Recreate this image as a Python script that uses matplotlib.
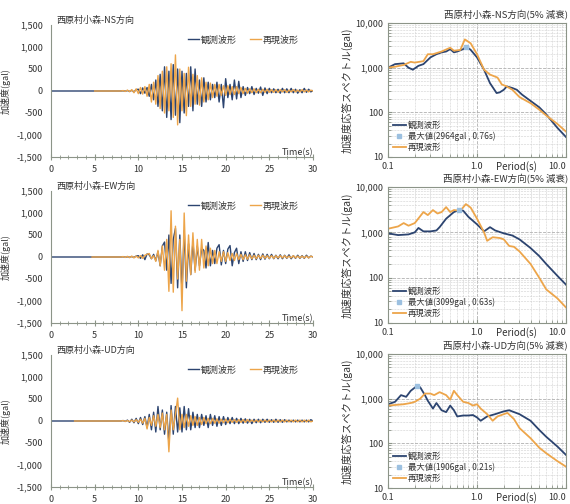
import numpy as np
import matplotlib
matplotlib.use('Agg')
import matplotlib.pyplot as plt
import matplotlib.ticker as mtick
from matplotlib.lines import Line2D

plt.rcParams['font.family'] = ['Noto Sans CJK JP', 'DejaVu Sans']

# ---------------- data ----------------
directions = ['NS', 'EW', 'UD']
site = '西原村小森'

# waveform samples, every 0.25 s from 8 s to 30 s (gal)
wave_t0, wave_t1, wave_dt = 8.0, 30.0, 0.25
rep_start = [5.0, 4.7, 2.7]   # where the reproduced record starts (s)

obs_ns = [0, 5, -5, 10, -10, 15, -20, 30,
          40, -60, 70, -50, 80, -120, 150, -200,
          250, -350, 380, -450, 550, -600, 450, -650,
          600, -550, 500, -720, 450, -500, 400, -350,
          550, -450, 500, -300, 250, -350, 300, -250,
          200, -200, 150, -150, 200, -250, 150, -380,
          280, -150, 150, -200, 250, -180, 220, -150,
          100, -100, 80, -60, 100, -80, 60, -50,
          90, -100, 70, -60, 60, -40, 50, -40,
          40, -50, 60, -40, 50, -40, 60, -40,
          40, -50, 30, -40, 60, -30, 40, -20,
          10]
rep_ns = [0, 10, -10, 20, -15, 30, -40, 50,
          -60, 80, -70, 100, -120, 150, -250, 200,
          -300, 350, -400, 450, -500, 550, -450, 620,
          -600, 820, -770, 500, -450, 400, -560, 540,
          -350, 380, -300, 350, -320, 300, -250, 200,
          -200, 180, -150, 150, -120, 150, -100, 120,
          -100, 120, -80, 100, -80, 100, -60, 80,
          -60, 60, -50, 50, -40, 50, -40, 40,
          -40, 40, -30, 40, -30, 30, -30, 30,
          -30, 30, -20, 30, -30, 20, -20, 30,
          -20, 20, -20, 30, -20, 20, -20, 20,
          0]

obs_ew = [0, 5, -5, 5, -5, 10, -10, 20,
          30, -30, 50, -60, 70, 50, -40, 60,
          -80, 120, -200, 250, 340, -300, 500, -600,
          400, 650, -700, 500, -800, 600, -700, 300,
          -400, 350, -300, 250, -200, 200, 150, -250,
          330, -200, 150, -150, 200, 280, -180, 150,
          -150, 180, 260, -200, 100, 200, -150, 120,
          -100, 120, -80, 100, -60, 80, -60, 60,
          -60, 70, -50, 60, -40, 60, -40, 40,
          -40, 50, -40, 40, -30, 50, -40, 30,
          -30, 40, -30, 30, -30, 40, -20, 20,
          0]
rep_ew = [0, 10, -10, 15, -15, 20, -20, 20,
          -20, 30, -30, 40, 60, 80, -40, 30,
          -100, 150, -200, 250, -300, 400, -780, 1050,
          -800, 700, -500, 400, -1220, 1000, -550, 500,
          -400, 550, -350, 400, -300, 400, -250, 250,
          -200, 200, -150, 150, -150, 120, -100, 120,
          -100, 100, -80, 80, -80, 80, -60, 60,
          -60, 50, -50, 50, -40, 40, -40, 40,
          -30, 40, -30, 30, -30, 30, -30, 30,
          -20, 30, -20, 30, -20, 20, -20, 30,
          -20, 20, -20, 20, -20, 20, -20, 20,
          0]

obs_ud = [0, 10, -10, 20, -30, 40, -40, 60,
          -60, 80, -80, 100, -150, 150, -200, 200,
          -250, 330, -200, 250, -300, 200, -500, 350,
          -300, 330, -250, 300, -250, 330, -200, 280,
          -200, 200, -150, 150, -150, 150, -100, 120,
          -150, 150, -100, 120, -120, 100, -100, 100,
          -80, 80, -60, 80, -60, 60, -60, 60,
          -50, 50, -50, 40, -60, 40, -40, 40,
          -40, 40, -30, 40, -30, 30, -30, 40,
          -30, 30, -30, 30, -20, 20, -20, 20,
          -20, 20, -20, 20, -20, 20, -20, 30,
          0]
rep_ud = [0, 10, -10, 10, -15, 20, -20, 30,
          -30, 40, -50, 60, -180, 80, -100, 120,
          -120, 150, -150, 180, -200, 150, -700, 250,
          -200, 150, 520, -200, 150, -150, 150, -120,
          120, -100, 100, -100, 80, -80, 80, -60,
          60, -60, 60, -50, 50, -50, 40, -40,
          40, -40, 40, -30, 30, -30, 30, -30,
          30, -30, 30, -20, 20, -20, 20, -20,
          20, -20, 20, -20, 20, -20, 20, -20,
          20, -20, 20, -20, 20, -20, 20, -20,
          20, -20, 20, -20, 20, -20, 20, -20,
          0]

# acceleration response spectra (5% damping), period (s) / Sa (gal)
per_obs_ns = [0.1, 0.12, 0.15, 0.17, 0.19, 0.22, 0.25, 0.3, 0.35, 0.4, 0.45, 0.5, 0.55,
              0.6, 0.7, 0.76, 0.85, 1.0, 1.2, 1.4, 1.66, 1.8, 2.0, 2.16, 2.5, 2.8, 3.2,
              4.0, 5.0, 6.0, 7.0, 8.0, 10.0]
sa_obs_ns = [1000, 1200, 1250, 1000, 900, 1100, 1200, 1700, 2000, 2200, 2300, 2600, 2200,
             2300, 2600, 2964, 2500, 1700, 900, 450, 270, 280, 320, 380, 350, 320, 250,
             180, 130, 90, 62, 45, 28]
per_rep_ns = [0.1, 0.12, 0.15, 0.18, 0.2, 0.25, 0.28, 0.32, 0.4, 0.5, 0.55, 0.65, 0.73,
              0.85, 1.0, 1.2, 1.4, 1.7, 1.9, 2.1, 2.5, 3.0, 4.0, 5.0, 6.0, 8.0, 10.0]
sa_rep_ns = [1000, 1050, 1150, 1350, 1300, 1400, 2000, 2000, 2300, 2800, 2400, 2500, 4300,
             3500, 2000, 900, 700, 600, 420, 390, 320, 220, 160, 115, 85, 55, 37]

per_obs_ew = [0.1, 0.13, 0.17, 0.2, 0.22, 0.25, 0.3, 0.35, 0.38, 0.45, 0.55, 0.63, 0.7,
              0.8, 1.0, 1.2, 1.4, 1.6, 2.0, 2.5, 3.0, 4.0, 5.0, 6.0, 8.0, 10.0]
sa_obs_ew = [950, 870, 900, 1000, 1250, 1050, 1050, 1100, 1300, 2000, 2800, 3099, 3000,
             2200, 1500, 1050, 1300, 1100, 950, 850, 700, 450, 300, 200, 110, 70]
per_rep_ew = [0.1, 0.13, 0.15, 0.17, 0.2, 0.25, 0.28, 0.32, 0.36, 0.4, 0.45, 0.5, 0.55,
              0.65, 0.75, 0.85, 1.0, 1.2, 1.3, 1.5, 1.8, 2.0, 2.3, 2.6, 3.0, 4.0, 5.0,
              6.0, 8.0, 10.0]
sa_rep_ew = [1200, 1350, 1600, 1400, 1600, 2800, 2400, 3100, 2600, 2800, 3600, 2800, 3100,
             3000, 4200, 3500, 2000, 1000, 650, 780, 750, 700, 500, 480, 380, 200, 100,
             55, 35, 22]

per_obs_ud = [0.1, 0.12, 0.14, 0.16, 0.18, 0.21, 0.23, 0.26, 0.28, 0.32, 0.35, 0.4, 0.45,
              0.5, 0.55, 0.6, 0.7, 0.8, 0.9, 1.0, 1.1, 1.3, 1.6, 2.0, 2.3, 3.0, 4.0, 5.0,
              6.0, 8.0, 10.0]
sa_obs_ud = [750, 850, 1200, 1100, 1500, 1906, 1800, 1200, 900, 600, 800, 550, 500,
             700, 550, 400, 420, 420, 430, 380, 320, 400, 450, 520, 550, 450, 320, 200,
             140, 85, 55]
per_rep_ud = [0.1, 0.15, 0.18, 0.2, 0.23, 0.26, 0.3, 0.33, 0.38, 0.45, 0.5, 0.55, 0.6,
              0.7, 0.8, 0.9, 1.0, 1.1, 1.3, 1.5, 1.7, 2.0, 2.2, 2.6, 3.0, 4.0, 5.0, 6.0,
              8.0, 10.0]
sa_rep_ud = [700, 750, 800, 850, 1000, 1300, 1300, 1200, 1400, 1200, 950, 1500, 1200,
             850, 800, 700, 750, 600, 450, 320, 400, 450, 480, 350, 220, 130, 80, 60,
             40, 30]

peak_sa = [2964, 3099, 1906]
peak_per = [0.76, 0.63, 0.21]

obs_waves = [obs_ns, obs_ew, obs_ud]
rep_waves = [rep_ns, rep_ew, rep_ud]
obs_spec = [(per_obs_ns, sa_obs_ns), (per_obs_ew, sa_obs_ew), (per_obs_ud, sa_obs_ud)]
rep_spec = [(per_rep_ns, sa_rep_ns), (per_rep_ew, sa_rep_ew), (per_rep_ud, sa_rep_ud)]

NAVY = '#2c4470'
ORANGE = '#eda54a'
PEAKC = '#9cc0e0'
TXT = '#333333'
AXC = '#8c9488'

# ---------------- figure ----------------
W, H = 570, 504
fig = plt.figure(figsize=(W / 100, H / 100), dpi=100)

def fa(x0, y0, x1, y1):
    # pixel box -> figure fraction
    return [x0 / W, 1 - y1 / H, (x1 - x0) / W, (y1 - y0) / H]

left_boxes = [(51, 25, 313, 157), (51, 191, 313, 323), (51, 355, 313, 487)]
right_boxes = [(388, 23, 566, 157), (388, 187, 566, 323), (388, 354, 566, 488)]

t_grid = np.arange(wave_t0, wave_t1 + 1e-9, wave_dt)

for i, d in enumerate(directions):
    # ---- waveform ----
    ax = fig.add_axes(fa(*left_boxes[i]))
    t_obs = np.concatenate([[0.0], t_grid])
    y_obs = np.concatenate([[0.0], obs_waves[i]])
    t_rep = np.concatenate([[rep_start[i]], t_grid])
    y_rep = np.concatenate([[0.0], rep_waves[i]])
    ax.plot(t_obs, y_obs, color=NAVY, lw=1.0, label='観測波形')
    ax.plot(t_rep, y_rep, color=ORANGE, lw=1.0, label='再現波形')
    ax.set_xlim(0, 30)
    ax.set_ylim(-1500, 1500)
    ax.set_xticks(range(0, 31, 5))
    ax.xaxis.set_minor_locator(mtick.MultipleLocator(1))
    ax.set_yticks(range(-1500, 1501, 500))
    ax.yaxis.set_major_formatter(mtick.FuncFormatter(lambda v, p: f'{int(v):,}'))
    for s in ['top', 'right']:
        ax.spines[s].set_visible(False)
    for s in ['left', 'bottom']:
        ax.spines[s].set_color(AXC)
        ax.spines[s].set_linewidth(0.8)
    ax.tick_params(axis='x', which='major', direction='inout', length=4, color=AXC,
                   labelsize=6.5, labelcolor=TXT, pad=4)
    ax.tick_params(axis='x', which='minor', direction='inout', length=3, color=AXC)
    ax.tick_params(axis='y', length=0, labelsize=6.5, labelcolor=TXT, pad=6)
    ax.set_ylabel('加速度(gal)', fontsize=6.5, color=TXT, labelpad=4)
    ax.text(30, -1500, 'Time(s)', ha='right', va='bottom', fontsize=6.5, color=TXT)
    ax.text(0.02, 1.0, f'{site}-{d}方向', transform=ax.transAxes, ha='left', va='bottom',
            fontsize=6.5, color=TXT)
    ax.legend(loc='upper right', ncol=2, frameon=False, fontsize=6.5, handlelength=1.2,
              handletextpad=0.2, columnspacing=1.5, borderaxespad=0.3,
              bbox_to_anchor=(0.97, 0.97), labelcolor=TXT)

    # ---- response spectrum ----
    bx = fig.add_axes(fa(*right_boxes[i]))
    bx.plot(obs_spec[i][0], obs_spec[i][1], color=NAVY, lw=1.3)
    bx.plot(rep_spec[i][0], rep_spec[i][1], color=ORANGE, lw=1.3)
    bx.plot([peak_per[i]], [peak_sa[i]], 's', color=PEAKC, ms=3)
    bx.set_xscale('log')
    bx.set_yscale('log')
    bx.set_xlim(0.1, 10)
    bx.set_ylim(10, 10000)
    bx.set_xticks([0.1, 1.0, 10.0])
    bx.set_xticklabels(['0.1', '1.0', '10.0'])
    bx.get_xticklabels()[-1].set_horizontalalignment('right')
    bx.set_yticks([10, 100, 1000, 10000])
    bx.set_yticklabels(['10', '100', '1,000', '10,000'])
    bx.grid(True, which='major', ls='--', lw=0.6, color='#b0b0b0')
    bx.grid(True, which='minor', ls='--', lw=0.4, color='#d0d0d0')
    for s in bx.spines.values():
        s.set_color(AXC)
        s.set_linewidth(0.8)
    bx.tick_params(which='both', direction='in', color=AXC, labelsize=6.5, labelcolor=TXT)
    bx.tick_params(which='major', length=3)
    bx.tick_params(which='minor', length=2)
    bx.set_ylabel('加速度応答スペクトル(gal)', fontsize=7.5, color=TXT, labelpad=2)
    bx.text(0.72, -0.03, 'Period(s)', transform=bx.transAxes, ha='center', va='top',
            fontsize=7, color=TXT)
    fig.text(568 / W, 1 - (right_boxes[i][1] - 3) / H, f'{site}-{d}方向(5% 減衰)',
             ha='right', va='bottom', fontsize=6.8, color=TXT)
    handles = [Line2D([], [], color=NAVY, lw=1.3),
               Line2D([], [], ls='none', marker='s', color=PEAKC, ms=3),
               Line2D([], [], color=ORANGE, lw=1.3)]
    labels = ['観測波形', f'最大値({peak_sa[i]}gal , {peak_per[i]}s)', '再現波形']
    bx.legend(handles, labels, loc='lower left', frameon=False, fontsize=6,
              handlelength=1.5, handletextpad=0.3, labelspacing=0.25,
              borderaxespad=0.2, labelcolor=TXT)

fig.savefig('out.png', dpi=100)
